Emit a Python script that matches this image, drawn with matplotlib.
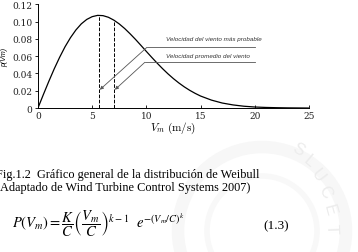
import matplotlib
matplotlib.use("Agg")
import matplotlib.pyplot as plt
from matplotlib.patches import Circle

# Values (wind speed in m/s, probability density)
speed = [0, 0.5, 1, 1.5, 2, 2.5, 3, 3.5, 4, 4.5, 5, 5.5, 6, 6.5, 7, 7.5, 8, 8.5,
         9, 9.5, 10, 10.5, 11, 11.5, 12, 12.5, 13, 13.5, 14, 14.5, 15, 16, 17,
         18, 19, 20, 21, 22, 23, 24, 25]
density = [0, 0.0156, 0.0308, 0.0453, 0.0587, 0.0709, 0.0814, 0.0903, 0.0974,
           0.1025, 0.1057, 0.1072, 0.1069, 0.1050, 0.1017, 0.0973, 0.0920,
           0.0859, 0.0794, 0.0725, 0.0655, 0.0586, 0.0519, 0.0455, 0.0395,
           0.0340, 0.0290, 0.0245, 0.0205, 0.0170, 0.0139, 0.0092, 0.0058,
           0.0036, 0.0021, 0.0012, 0.0007, 0.0004, 0.0002, 0.0001, 0.0]

most_probable = 5.65
mean_speed = 7.05
peak_most_probable = 0.1072
peak_mean = 0.1016

x_ticks = [0, 5, 10, 15, 20, 25]
y_ticks = [0, 0.02, 0.04, 0.06, 0.08, 0.10, 0.12]
y_tick_labels = ["0", "0.02", "0.04", "0.06", "0.08", "0.10", "0.12"]

label_most = "Velocidad del viento más probable"
label_mean = "Velocidad promedio del viento"
caption = ["Fig.1.2  Gráfico general de la distribución de Weibull",
           "(Adaptado de Wind Turbine Control Systems 2007)"]

plt.rcParams["mathtext.fontset"] = "cm"
fig = plt.figure(figsize=(3.58, 2.53), dpi=100)

# faint watermark seal in the background
wm = fig.add_axes([0, 0, 1, 1], zorder=-5)
wm.set_xlim(0, 358)
wm.set_ylim(253, 0)
wm.axis("off")
wm.add_patch(Circle((262, 232), 84, fill=False, lw=9, color="#f7f7f7"))
wm.add_patch(Circle((262, 232), 55, fill=False, lw=4, color="#f8f8f8"))
for ch, (px, py, rot) in zip("SLUCET", [(298, 150, -30), (309, 162, -40),
                                         (318, 176, -52), (325, 192, -62),
                                         (329, 210, -75), (331, 229, -88)]):
    wm.text(px, py, ch, fontsize=12, color="#ececec", rotation=rot,
            ha="center", va="center", family="Liberation Sans")

ax = fig.add_axes([0.106, 0.569, 0.757, 0.41])
ax.plot(speed, density, color="black", lw=0.9)
ax.plot([most_probable, most_probable], [0, peak_most_probable], "k--", lw=0.7)
ax.plot([mean_speed, mean_speed], [0, peak_mean], "k--", lw=0.7)

# annotation leaders
line_col = "#555555"
ax.plot([10.05, 20.0], [0.0702, 0.0702], color=line_col, lw=0.6)
ax.plot([9.86, 20.0], [0.0529, 0.0529], color=line_col, lw=0.6)
ax.annotate("", xy=(5.71, 0.0212), xytext=(10.05, 0.0702),
            arrowprops=dict(arrowstyle="-|>", color=line_col, lw=0.6,
                            mutation_scale=5, shrinkA=0, shrinkB=0))
ax.annotate("", xy=(7.1, 0.0212), xytext=(9.86, 0.0529),
            arrowprops=dict(arrowstyle="-|>", color=line_col, lw=0.6,
                            mutation_scale=5, shrinkA=0, shrinkB=0))
ax.text(11.8, 0.0805, label_most, fontsize=4.5, style="italic",
        color="#333333", va="center", family="Liberation Sans")
ax.text(11.8, 0.0605, label_mean, fontsize=4.5, style="italic",
        color="#333333", va="center", family="Liberation Sans")

ax.set_xlim(0, 25)
ax.set_ylim(0, 0.12)
ax.set_xticks(x_ticks)
ax.set_yticks(y_ticks)
ax.set_yticklabels(y_tick_labels)
for lab in ax.get_xticklabels() + ax.get_yticklabels():
    lab.set_family("DejaVu Serif")
    lab.set_fontsize(6.5)
    lab.set_color("#222222")
ax.tick_params(axis="x", direction="in", length=2.5, width=0.6, pad=2)
ax.tick_params(axis="y", direction="out", length=2.5, width=0.6, pad=1.5)
ax.spines["top"].set_visible(False)
ax.spines["right"].set_visible(False)
for s in ("left", "bottom"):
    ax.spines[s].set_linewidth(0.7)
ax.patch.set_alpha(0)

ax.set_ylabel("p(Vm)", fontsize=5, style="italic", family="Liberation Sans",
              labelpad=3)
ax.set_xlabel(r"$V_m\ \mathrm{(m/s)}$", fontsize=8, labelpad=0)

fig.text(-0.01, 1 - 175 / 253, caption[0], fontsize=8.8,
         family="Liberation Serif", va="center")
fig.text(-0.01, 1 - 188 / 253, caption[1], fontsize=8.8,
         family="Liberation Serif", va="center")

fig.text(12 / 358, 1 - 224 / 253,
         r"$P(V_m) = \dfrac{K}{C}\left(\dfrac{V_m}{C}\right)^{k-1}\ \ e^{-(V_m/C)^k}$",
         fontsize=10.5, va="center", math_fontfamily="stix")
fig.text(263 / 358, 1 - 226 / 253, "(1.3)", fontsize=9.5,
         family="Liberation Serif", va="center")

fig.savefig("out.png", dpi=100)
